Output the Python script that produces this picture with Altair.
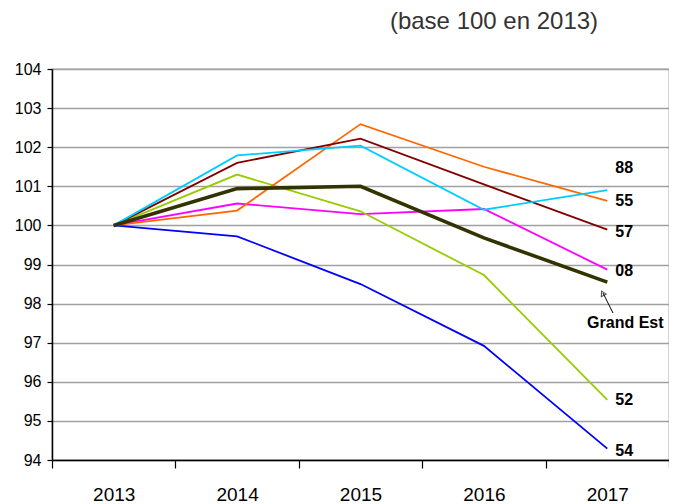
import altair as alt
import pandas as pd

years = ["2013", "2014", "2015", "2016", "2017"]
series_names = ["08", "52", "54", "55", "57", "88", "Grand Est"]
s08 = [100, 100.56, 100.29, 100.42, 98.87]
s52 = [100, 101.30, 100.36, 98.73, 95.54]
s54 = [100, 99.72, 98.50, 96.92, 94.29]
s55 = [100, 100.38, 102.59, 101.50, 100.63]
s57 = [100, 101.60, 102.22, 101.05, 99.89]
s88 = [100, 101.79, 102.04, 100.40, 100.90]
sGE = [100, 100.94, 101.00, 99.68, 98.55]
colors = ["#ff00ff", "#99cc00", "#0000ff", "#ff6600", "#800000", "#00ccff", "#333300"]

# end labels (text, y position in index units)
label_text = ["88", "55", "57", "08", "52", "54"]
label_y = [101.48, 100.63, 99.84, 98.84, 95.54, 94.24]
ge_label_y = [97.51]

y_ticks = list(range(94, 105))

values = [s08, s52, s54, s55, s57, s88, sGE]
rows = []
for name, vals in zip(series_names, values):
    for yr, v in zip(years, vals):
        rows.append({"year": yr, "serie": name, "value": v})
df = pd.DataFrame(rows)

FONT = "Liberation Sans"

x_enc = alt.X(
    "year:N",
    sort=years,
    scale=alt.Scale(paddingInner=0, paddingOuter=0),
    axis=alt.Axis(
        title=None, labelAngle=0, tickBand="extent", grid=False,
        labelFont=FONT, labelFontSize=19, labelColor="#000",
        tickColor="#000", tickSize=8, tickWidth=1.2, labelOverlap=False,
        domainColor="#000", domainWidth=1.5, labelPadding=17,
    ),
)
y_enc = alt.Y(
    "value:Q",
    scale=alt.Scale(domain=[94, 104], nice=False, zero=False),
    axis=alt.Axis(
        title=None, values=y_ticks, grid=True, gridColor="#a0a0a0",
        gridWidth=1.3, labelFont=FONT, labelFontSize=16, labelColor="#000",
        tickColor="#000", tickSize=5, tickWidth=1.2, domainColor="#000",
        domainWidth=1.5, labelPadding=6, labelOverlap=False,
    ),
)
color_enc = alt.Color(
    "serie:N",
    scale=alt.Scale(domain=series_names, range=colors),
    legend=None,
)

base = alt.Chart(df)
dept_lines = base.transform_filter(alt.datum.serie != "Grand Est").mark_line(
    strokeWidth=1.8
).encode(x=x_enc, y=y_enc, color=color_enc, detail="serie:N")
ge_line = base.transform_filter(alt.datum.serie == "Grand Est").mark_line(
    strokeWidth=3.6
).encode(x=x_enc, y=y_enc, color=color_enc)

lab_df = pd.DataFrame({"year": ["2017"] * len(label_text), "label": label_text, "value": label_y})
labels = alt.Chart(lab_df).mark_text(
    align="left", baseline="middle", dx=8, font=FONT, fontSize=16,
    fontWeight="bold", color="#000",
).encode(x=x_enc, y=y_enc, text="label:N")

ge_df = pd.DataFrame({"year": ["2017"], "label": ["Grand Est"], "value": ge_label_y})
ge_label = alt.Chart(ge_df).mark_text(
    align="center", baseline="middle", dx=18, font=FONT, fontSize=16,
    fontWeight="bold", color="#000",
).encode(x=x_enc, y=y_enc, text="label:N")

arrow_line = alt.Chart(ge_df).mark_rule(color="#000", strokeWidth=1).encode(
    x=alt.value(561), y=alt.value(244), x2=alt.value(551), y2=alt.value(224)
)
arrow_head = alt.Chart(ge_df).mark_point(
    shape="triangle", filled=False, color="#000", size=30, angle=333, strokeWidth=1
).encode(x=alt.value(551), y=alt.value(225))

title_layer = alt.Chart(ge_df).mark_text(
    text="(base 100 en 2013)", font=FONT, fontSize=24,
    color="#333333", align="center", baseline="middle",
).encode(x=alt.value(442), y=alt.value(-47))

chart = alt.layer(
    dept_lines, ge_line, labels, ge_label, arrow_line, arrow_head, title_layer
).properties(
    width=617, height=391,
    autosize=alt.AutoSizeParams(type="none"),
    padding={"left": 44, "top": 61, "right": 0, "bottom": 44},
).configure_view(stroke="#a0a0a0", strokeWidth=1.3)

chart.save("out.html", embed_options={"renderer": "svg", "actions": False})
